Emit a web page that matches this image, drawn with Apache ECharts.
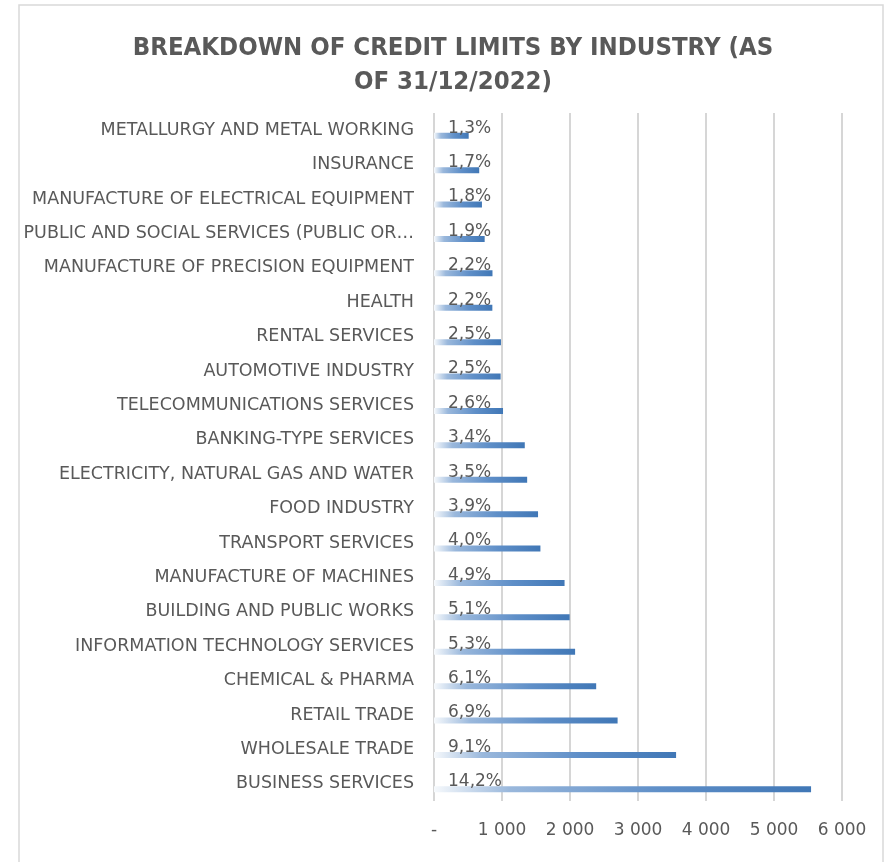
<!DOCTYPE html>
<html>
<head>
<meta charset="utf-8">
<script src="https://cdn.jsdelivr.net/npm/echarts@6/dist/echarts.min.js"></script>
<style>
  html, body { margin: 0; padding: 0; background: #fff; }
  #chart { width: 886px; height: 862px; }
</style>
</head>
<body>
<div id="chart"></div>
<script>
// industries, top to bottom as shown
const industries = [
  'METALLURGY AND METAL WORKING',
  'INSURANCE',
  'MANUFACTURE OF ELECTRICAL EQUIPMENT',
  'PUBLIC AND SOCIAL SERVICES (PUBLIC OR…',
  'MANUFACTURE OF PRECISION EQUIPMENT',
  'HEALTH',
  'RENTAL SERVICES',
  'AUTOMOTIVE INDUSTRY',
  'TELECOMMUNICATIONS SERVICES',
  'BANKING-TYPE SERVICES',
  'ELECTRICITY, NATURAL GAS AND WATER',
  'FOOD INDUSTRY',
  'TRANSPORT SERVICES',
  'MANUFACTURE OF MACHINES',
  'BUILDING AND PUBLIC WORKS',
  'INFORMATION TECHNOLOGY SERVICES',
  'CHEMICAL & PHARMA',
  'RETAIL TRADE',
  'WHOLESALE TRADE',
  'BUSINESS SERVICES'
]
// credit limits
const limits = [510, 665, 705, 745, 860, 858, 985, 980, 1015, 1335, 1370, 1530, 1565, 1920, 1995, 2075, 2385, 2700, 3560, 5545]
// share of total, %
const shares = [1.3, 1.7, 1.8, 1.9, 2.2, 2.2, 2.5, 2.5, 2.6, 3.4, 3.5, 3.9, 4.0, 4.9, 5.1, 5.3, 6.1, 6.9, 9.1, 14.2]
const xTicks = [0, 1000, 2000, 3000, 4000, 5000, 6000]

const grey = '#595959'
const font = 'DejaVu Sans'

const chart = echarts.init(document.getElementById('chart'))

const option = {
  backgroundColor: '#fff',
  animation: false,
  title: {
    text: 'BREAKDOWN OF CREDIT LIMITS BY INDUSTRY (AS\nOF 31/12/2022)',
    left: 448,
    top: 26,
    textAlign: 'center',
    textStyle: {
      fontFamily: 'DejaVu Sans Condensed',
      fontWeight: 'bold',
      fontSize: 25.5,
      lineHeight: 34,
      color: grey
    }
  },
  graphic: [{
    type: 'rect',
    shape: { x: 19, y: 5, width: 864, height: 900 },
    style: { fill: 'none', stroke: '#d9d9d9', lineWidth: 1.5 },
    silent: true
  }],
  grid: { left: 434, right: 44, top: 113, bottom: 61, containLabel: false },
  xAxis: {
    type: 'value',
    min: xTicks[0],
    max: xTicks[xTicks.length - 1],
    interval: 1000,
    axisLine: { show: false },
    axisTick: { show: false },
    splitLine: { lineStyle: { color: '#d6d6d6', width: 2 } },
    axisLabel: {
      margin: 21,
      color: grey,
      fontFamily: font,
      fontSize: 17,
      formatter: v => v === 0 ? '-' : String(v).replace(/\B(?=(\d{3})+(?!\d))/g, ' ')
    }
  },
  yAxis: {
    type: 'category',
    inverse: true,
    data: industries,
    axisLine: { show: false },
    axisTick: { show: false },
    axisLabel: {
      margin: 20,
      color: grey,
      fontFamily: font,
      fontSize: 17.5
    }
  },
  series: [
    {
      // spacer so the real bar sits in the lower half of each band
      type: 'bar',
      barWidth: 6,
      barGap: '85%',
      data: industries.map(() => null),
      silent: true
    },
    {
      type: 'bar',
      barWidth: 6,
      data: limits,
      itemStyle: {
        color: new echarts.graphic.LinearGradient(0, 0, 1, 0, [
          { offset: 0, color: '#f6f9fc' },
          { offset: 0.2, color: '#9ab8dc' },
          { offset: 0.6, color: '#5f8fc8' },
          { offset: 1, color: '#4077b6' }
        ])
      },
      label: {
        show: true,
        position: [14, 4],
        align: 'left',
        verticalAlign: 'bottom',
        color: grey,
        fontFamily: font,
        fontSize: 17,
        formatter: p => shares[p.dataIndex].toFixed(1).replace('.', ',') + '%'
      }
    }
  ]
}

chart.setOption(option)

window.addEventListener('resize', () => chart.resize())
</script>
</body>
</html>
